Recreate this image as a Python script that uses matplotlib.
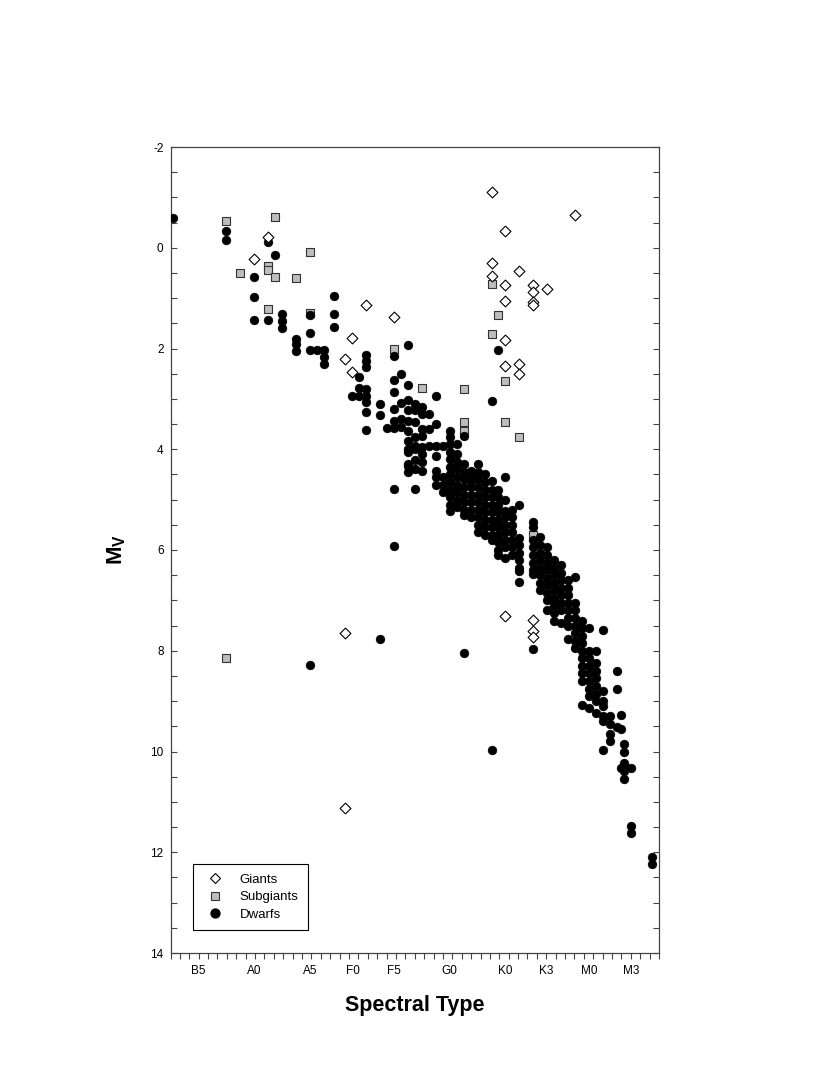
import matplotlib
matplotlib.use("Agg")
import matplotlib.pyplot as plt
from matplotlib.lines import Line2D
from matplotlib.ticker import MultipleLocator, FixedLocator
import numpy as np

plt.rcParams['font.family'] = ['Liberation Sans', 'DejaVu Sans']
plt.rcParams['mathtext.fontset'] = 'custom'
plt.rcParams['mathtext.rm'] = 'Liberation Sans'
plt.rcParams['mathtext.bf'] = 'Liberation Sans:bold'
plt.rcParams['axes.unicode_minus'] = False

# ---- data (x = spectral index, y = absolute magnitude M_V) ----
spec_labels = ['B5', 'A0', 'A5', 'F0', 'F5', 'G0', 'K0', 'K3', 'M0', 'M3']
spec_pos = [4, 12, 20, 26.2, 32, 40, 48, 53.8, 60, 66]

giant_sp = [14, 12, 28, 26, 25, 26, 32, 46, 58, 48, 46, 50, 46, 48, 52, 54, 52, 52,
            52, 48, 48, 48, 50, 50, 25, 25, 48, 52, 52, 52]
giant_mv = [-0.21, 0.23, 1.14, 1.80, 2.20, 2.47, 1.38, -1.10, -0.65, -0.33, 0.30, 0.47,
            0.56, 0.73, 0.74, 0.82, 0.88, 1.08, 1.13, 1.06, 1.84, 2.35, 2.30, 2.50,
            7.64, 11.12, 7.32, 7.39, 7.60, 7.72]

subgiant_sp = [8, 15, 14, 14, 10, 15, 18, 20, 14, 20, 32, 36, 42, 42, 42, 46, 47, 46,
               48, 48, 50, 52, 8]
subgiant_mv = [-0.53, -0.61, 0.36, 0.44, 0.50, 0.58, 0.60, 0.08, 1.21, 1.29, 2.00, 2.78,
               2.81, 3.46, 3.63, 0.71, 1.33, 1.72, 2.65, 3.46, 3.75, 5.71, 8.14]

dwarf_cols = [0.4, 8, 12, 14, 15, 16, 18, 20, 21, 22, 23.5, 26, 27, 28, 30, 31, 32, 33,
              34, 35, 36, 37, 38, 39, 40, 41, 42, 43, 44, 45, 46, 47, 48, 49, 50, 52,
              53, 54, 55, 56, 57, 58, 59, 60, 61, 62, 63, 64, 64.5, 65, 66, 69]
dwarf_mv = [
    [-0.59],
    [-0.33, -0.16],
    [0.58, 0.98, 1.43],
    [-0.11, 1.43],
    [0.15],
    [1.31, 1.46, 1.60],
    [1.82, 1.92, 2.04],
    [1.34, 1.70, 2.02, 8.28],
    [2.02],
    [2.02, 2.17, 2.30],
    [0.96, 1.32, 1.57],
    [2.94],
    [2.57, 2.79, 2.94],
    [2.12, 2.24, 2.36, 2.80, 2.94, 3.07, 3.27, 3.61],
    [3.11, 3.33, 7.77],
    [3.58],
    [2.14, 2.63, 2.86, 3.20, 3.43, 3.57, 4.79, 5.93],
    [2.51, 3.08, 3.39, 3.56],
    [1.94, 2.73, 3.02, 3.22, 3.43, 3.63, 3.83, 4.00, 4.06, 4.29, 4.33, 4.46],
    [3.10, 3.23, 3.46, 3.76, 3.93, 3.99, 4.22, 4.39, 4.79],
    [3.17, 3.30, 3.59, 3.73, 3.96, 4.09, 4.26, 4.43],
    [3.30, 3.60, 3.93],
    [2.95, 3.50, 3.93, 4.13, 4.43, 4.55, 4.70],
    [3.93, 4.56, 4.70, 4.85],
    [3.63, 3.75, 3.90, 4.05, 4.20, 4.35, 4.50, 4.65, 4.80, 4.95, 5.10, 5.22],
    [3.89, 4.09, 4.26, 4.40, 4.55, 4.70, 4.85, 5.00, 5.15],
    [3.73, 4.29, 4.45, 4.60, 4.75, 4.90, 5.05, 5.20, 5.30, 8.04],
    [4.43, 4.55, 4.63, 4.75, 4.90, 5.05, 5.20, 5.35],
    [4.29, 4.45, 4.60, 4.75, 4.90, 5.05, 5.20, 5.35, 5.50, 5.65],
    [4.50, 4.65, 4.80, 4.95, 5.10, 5.25, 5.40, 5.55, 5.70],
    [3.04, 4.63, 4.80, 4.95, 5.10, 5.25, 5.40, 5.55, 5.70, 5.80, 9.97],
    [2.02, 4.80, 4.95, 5.10, 5.25, 5.40, 5.55, 5.70, 5.85, 6.00, 6.10],
    [4.55, 5.00, 5.22, 5.35, 5.50, 5.65, 5.80, 5.95, 6.15],
    [5.20, 5.35, 5.50, 5.65, 5.80, 5.95, 6.10],
    [5.10, 5.76, 5.90, 6.05, 6.20, 6.35, 6.41, 6.64],
    [5.45, 5.55, 5.81, 5.95, 6.10, 6.25, 6.40, 6.47, 7.97],
    [5.75, 5.90, 6.05, 6.20, 6.35, 6.50, 6.65, 6.80],
    [5.95, 6.10, 6.25, 6.40, 6.55, 6.70, 6.85, 7.00, 7.20],
    [6.20, 6.35, 6.50, 6.65, 6.80, 6.95, 7.10, 7.25, 7.40],
    [6.30, 6.45, 6.60, 6.75, 6.90, 7.05, 7.20, 7.44],
    [6.60, 6.75, 6.90, 7.05, 7.20, 7.35, 7.50, 7.77],
    [6.53, 7.05, 7.20, 7.35, 7.50, 7.65, 7.80, 7.95],
    [7.40, 7.55, 7.70, 7.85, 8.00, 8.15, 8.30, 8.45, 8.60, 9.08],
    [7.54, 8.00, 8.15, 8.30, 8.45, 8.60, 8.75, 8.90, 9.13],
    [8.00, 8.25, 8.40, 8.55, 8.70, 8.85, 9.00, 9.23],
    [7.59, 8.80, 8.99, 9.10, 9.29, 9.39, 9.97],
    [9.30, 9.45, 9.66, 9.79],
    [8.40, 8.75, 9.51],
    [9.27, 9.56, 10.32],
    [9.86, 10.00, 10.22, 10.32, 10.39, 10.54],
    [10.32, 11.48, 11.61],
    [12.10, 12.24],
]

dw_x = [c for c, vals in zip(dwarf_cols, dwarf_mv) for _ in vals]
dw_y = [v for vals in dwarf_mv for v in vals]

# ---- figure ----
W, H = 830, 1075
fig = plt.figure(figsize=(W / 100, H / 100), dpi=100)
ax = fig.add_axes([170.5 / W, 1 - 953 / H, 488.5 / W, 806 / H])
ax.set_xlim(0, 70)
ax.set_ylim(14, -2)

axis_col = '#444444'
for s in ax.spines.values():
    s.set_color(axis_col)
    s.set_linewidth(0.9)

sq_ms, dw_ms, gi_ms = 5.6, 6.4, 5.5
ax.scatter(subgiant_sp, subgiant_mv, marker='s', s=sq_ms ** 2, facecolor='#bdbdbd',
           edgecolor='#333333', linewidth=0.8, zorder=2)
ax.scatter(dw_x, dw_y, marker='o', s=dw_ms ** 2, facecolor='black', edgecolor='black',
           linewidth=0.3, zorder=3)
ax.scatter(giant_sp, giant_mv, marker='D', s=gi_ms ** 2, facecolor='white',
           edgecolor='black', linewidth=0.8, zorder=4)

# y axis
ax.yaxis.set_major_locator(FixedLocator(list(range(-2, 15, 2))))
ax.yaxis.set_minor_locator(MultipleLocator(0.5))
ax.tick_params(axis='y', which='both', direction='in', left=True, right=True,
               length=4, width=0.8, color=axis_col, labelsize=8.5, pad=5)
# x axis
ax.set_xticks(spec_pos, spec_labels)
ax.xaxis.set_minor_locator(FixedLocator(np.linspace(0, 70, 53)))
ax.tick_params(axis='x', which='major', length=0, labelsize=8.5, pad=9)
ax.tick_params(axis='x', which='minor', direction='out', length=4, width=0.8,
               color=axis_col, top=False)

fig.text(414.75 / W, 1 - 1005 / H, 'Spectral Type', ha='center', va='center',
         fontsize=15.5, fontweight='bold')
fig.text(117 / W, 1 - 550 / H, r'$\mathbf{M_V}$', ha='center', va='center',
         rotation=90, fontsize=16)

handles = [
    Line2D([], [], linestyle='none', marker='D', markersize=gi_ms, markerfacecolor='white',
           markeredgecolor='black', markeredgewidth=0.8),
    Line2D([], [], linestyle='none', marker='s', markersize=sq_ms, markerfacecolor='#bdbdbd',
           markeredgecolor='#333333', markeredgewidth=0.8),
    Line2D([], [], linestyle='none', marker='o', markersize=dw_ms, markerfacecolor='black',
           markeredgecolor='black'),
]
leg = ax.legend(handles, ['Giants', 'Subgiants', 'Dwarfs'], loc='lower left',
                bbox_to_anchor=(0.046, 0.0285), borderaxespad=0, fontsize=9.5,
                frameon=True, fancybox=False, framealpha=1, edgecolor='black',
                borderpad=0.7, handlelength=2.0, handletextpad=0.85, labelspacing=0.4)
leg.get_frame().set_linewidth(0.8)

fig.savefig('out.png', dpi=100)
